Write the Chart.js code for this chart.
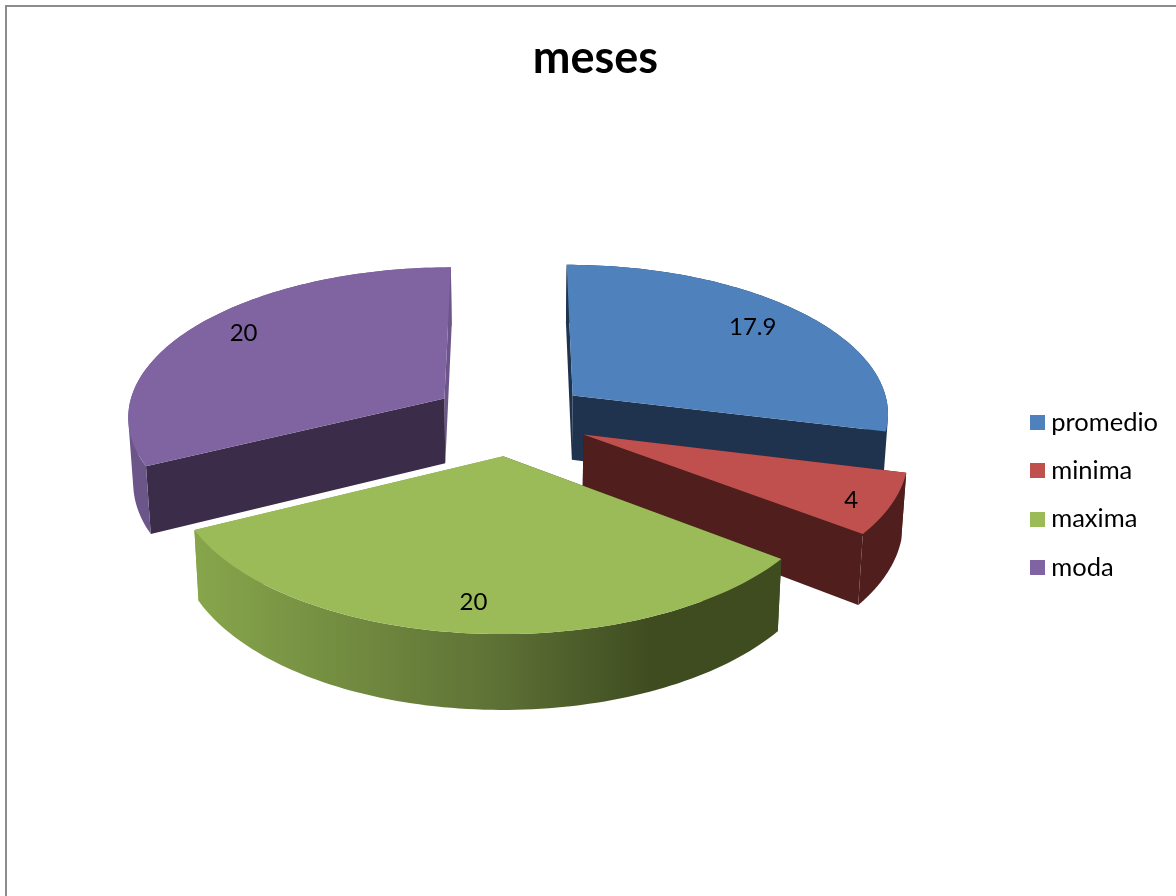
<!DOCTYPE html>
<html>
<head>
<meta charset="utf-8">
<style>
html,body{margin:0;padding:0;background:#fff;overflow:hidden}
#wrap{position:relative;width:1176px;height:896px}
#frame{position:absolute;left:5px;top:5px;right:-10px;bottom:-10px;border-left:2px solid #8c8c8c;border-top:2px solid #8c8c8c}
canvas{position:absolute;left:0;top:0}
</style>
<script src="https://cdn.jsdelivr.net/npm/chart.js@4"></script>
</head>
<body>
<div id="wrap"><div id="frame"></div><canvas id="c" width="1176" height="896"></canvas></div>
<script>
const categories = ['promedio', 'minima', 'maxima', 'moda'];
const meses = [17.9, 4, 20, 20];
const topColors = ['#4F81BD', '#C0504D', '#9BBB59', '#8064A2'];
const startFaceColors = ['#1F334E', '#4F1E1D', '#3F4C20', '#3B2C49'];
const endFaceColors = ['#1F334E', '#4F1E1D', '#87A64B', '#6C5589'];
const rimColors = ['#1F334E', '#4F1E1D', null, '#6C5589'];
const labelRadii = [0.8, 0.88, 0.83, 0.84];
const labelTurns = [-1.5, 1, 0, 3.5];
const drawOrder = [3, 0, 1, 2];

// 3D view of the pie
const view = {cx: 511, cy: 418, rx: 318, ry: 149.5, persp: 0.109, explode: 0.25, depth: 65.5, shrink: 0.987};

function project(nx, ny) {
  const s = 1 / (1 - view.persp * ny);
  return {x: view.cx + view.rx * nx * s, y: view.cy + view.ry * ny * s, s};
}
function lower(p) {
  return {x: view.cx + (p.x - view.cx) * view.shrink, y: p.y + view.depth * p.s};
}
function arcGeometry(el) {
  const mid = (el.startAngle + el.endAngle) / 2;
  const ox = Math.cos(mid) * view.explode, oy = Math.sin(mid) * view.explode;
  const apex = project(ox, oy);
  const rim = [];
  const n = 90;
  for (let i = 0; i <= n; i++) {
    const a = el.startAngle + (el.endAngle - el.startAngle) * i / n;
    rim.push(project(ox + Math.cos(a), oy + Math.sin(a)));
  }
  return {mid, ox, oy, apex, rim};
}
function poly(ctx, pts, fill) {
  ctx.beginPath();
  pts.forEach((p, i) => i ? ctx.lineTo(p.x, p.y) : ctx.moveTo(p.x, p.y));
  ctx.closePath();
  ctx.fillStyle = fill;
  ctx.fill();
}
function signedArea(q) {
  let a = 0;
  q.forEach((p, i) => { const r = q[(i + 1) % q.length]; a += p.x * r.y - r.x * p.y; });
  return a;
}
// The side wall folds over itself, so every quad is wound the same way and filled as one path.
function fillWall(ctx, upper, down, fill) {
  ctx.beginPath();
  for (let k = 0; k < upper.length - 1; k++) {
    let q = [upper[k], upper[k + 1], down[k + 1], down[k]];
    if (signedArea(q) < 0) q = q.reverse();
    q.forEach((p, i) => i ? ctx.lineTo(p.x, p.y) : ctx.moveTo(p.x, p.y));
    ctx.closePath();
  }
  ctx.fillStyle = fill;
  ctx.fill('nonzero');
}
function greenRim(ctx) {
  const g = ctx.createLinearGradient(194, 0, 781, 0);
  g.addColorStop(0, '#87A64B');
  g.addColorStop(0.5, '#5F7336');
  g.addColorStop(0.78, '#3F4C20');
  g.addColorStop(1, '#3F4C20');
  return g;
}

const pie3d = {
  id: 'pie3d',
  beforeDatasetDraw(chart, args) {
    const ctx = chart.ctx;
    const arcs = chart.getDatasetMeta(args.index).data;
    ctx.save();
    drawOrder.forEach(i => {
      const geo = arcGeometry(arcs[i]);
      const lowApex = lower(geo.apex);
      const lowRim = geo.rim.map(lower);
      const first = geo.rim[0], last = geo.rim[geo.rim.length - 1];
      poly(ctx, [geo.apex, last, lowRim[lowRim.length - 1], lowApex], endFaceColors[i]);
      poly(ctx, [geo.apex, first, lowRim[0], lowApex], startFaceColors[i]);
      fillWall(ctx, geo.rim, lowRim, rimColors[i] || greenRim(ctx));
      poly(ctx, [geo.apex].concat(geo.rim), topColors[i]);
    });
    ctx.restore();
    return false;
  },
  afterDatasetsDraw(chart) {
    const ctx = chart.ctx;
    const arcs = chart.getDatasetMeta(0).data;
    ctx.save();
    ctx.font = '24px Lato';
    ctx.fillStyle = '#000';
    ctx.textAlign = 'center';
    ctx.textBaseline = 'middle';
    arcs.forEach((el, i) => {
      const geo = arcGeometry(el);
      const a = geo.mid + labelTurns[i] * Math.PI / 180;
      const p = project(geo.ox + Math.cos(a) * labelRadii[i], geo.oy + Math.sin(a) * labelRadii[i]);
      ctx.fillText(String(meses[i]), p.x, p.y + 2);
    });
    ctx.restore();
  }
};

function swatch(color) {
  const c = document.createElement('canvas');
  c.width = 15; c.height = 15;
  const x = c.getContext('2d');
  x.fillStyle = color;
  x.fillRect(0, 0, 15, 15);
  return c;
}

new Chart(document.getElementById('c'), {
  type: 'pie',
  data: {
    labels: categories,
    datasets: [{data: meses, backgroundColor: topColors, borderWidth: 0}]
  },
  plugins: [pie3d],
  options: {
    responsive: false,
    animation: false,
    events: [],
    layout: {padding: {left: 23, right: 8, top: 0, bottom: 0}},
    plugins: {
      tooltip: {enabled: false},
      title: {
        display: true,
        text: 'meses',
        color: '#000',
        font: {family: 'Lato', size: 45, weight: 'bold'},
        padding: {top: 31, bottom: 9}
      },
      legend: {
        position: 'right',
        fullSize: false,
        labels: {
          color: '#000',
          font: {family: 'Lato', size: 25.5},
          usePointStyle: true,
          pointStyleWidth: 1,
          boxWidth: 1,
          boxHeight: 15,
          padding: 22.8,
          generateLabels(chart) {
            return Chart.overrides.pie.plugins.legend.labels.generateLabels(chart)
              .map((item, i) => Object.assign(item, {pointStyle: swatch(topColors[i])}));
          }
        }
      }
    }
  }
});
</script>
</body>
</html>
